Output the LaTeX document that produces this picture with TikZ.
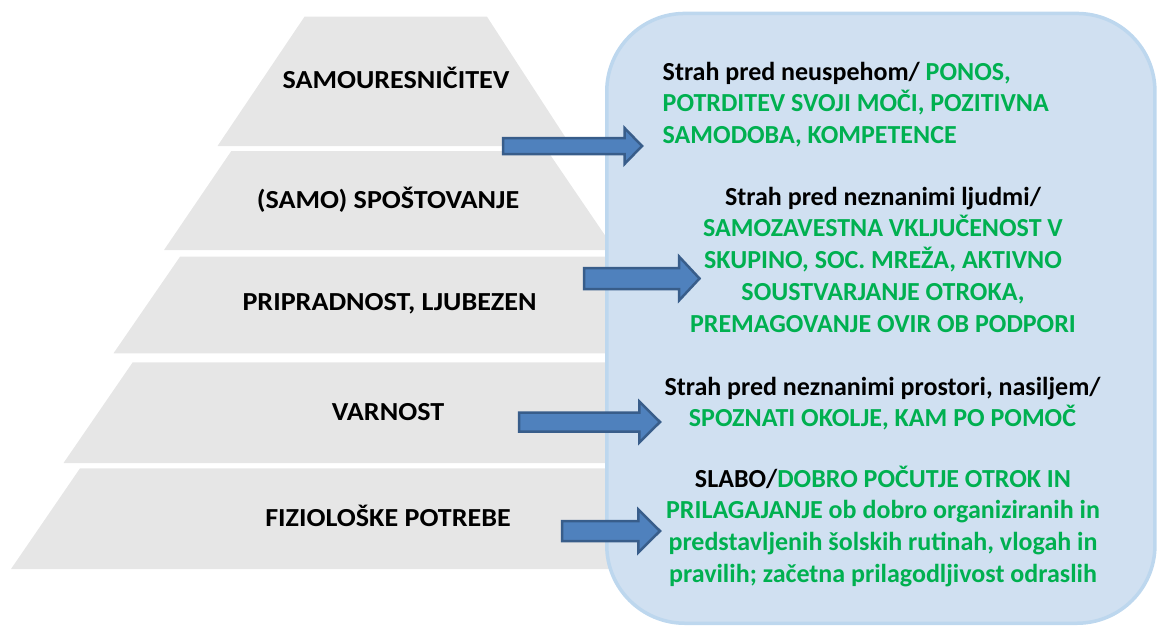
\documentclass[tikz,border=0pt]{standalone}
\usepackage{fontspec}
\usepackage{graphicx}
\setmainfont{Carlito}
\definecolor{layergray}{HTML}{E6E6E6}
\definecolor{boxfill}{HTML}{D0E0F1}
\definecolor{boxline}{HTML}{BDD7EE}
\definecolor{arrowfill}{HTML}{4F81BD}
\definecolor{arrowline}{HTML}{385D8A}
\definecolor{grn}{HTML}{00B050}
\newcommand{\lblwide}[1]{\scalebox{1.08}[1]{#1}}
\tikzset{
  layer/.style={fill=layergray, draw=none},
  infobox/.style={fill=boxfill, draw=boxline, line width=3.5pt, rounded corners=78pt},
  blockarrow/.style={fill=arrowfill, draw=arrowline, line width=2.5pt, line join=miter},
  lvl/.style={font=\fontsize{26}{31.7}\selectfont\bfseries, inner sep=0pt, anchor=base, text=black},
  desc/.style={font=\fontsize{26}{31.7}\selectfont\bfseries, inner sep=0pt, text=grn},
}
\newcommand{\blockarr}[6]{%
  \draw[blockarrow] (#1,#4-#5) -- (#2,#4-#5) -- (#2,#4-#6) -- (#3,#4) -- (#2,#4+#6) -- (#2,#4+#5) -- (#1,#4+#5) -- cycle;}
\begin{document}
\begin{tikzpicture}[x=1pt,y=-1pt]
\useasboundingbox (0,0) rectangle (1158,626);
% pyramid layers
\fill[layer] (304.5,16.7) -- (487,16.7) -- (571,146) -- (217.5,146) -- cycle;
\fill[layer] (231.3,151) -- (547.6,151) -- (615,250) -- (164,250) -- cycle;
\fill[layer] (180,256.7) -- (640,256.7) -- (640,353.3) -- (113.5,353.3) -- cycle;
\fill[layer] (132.7,362.3) -- (640,362.3) -- (640,463) -- (63.5,463) -- cycle;
\fill[layer] (80,468.3) -- (640,468.3) -- (640,569) -- (11,569) -- cycle;
% info box
\draw[infobox] (606.75,13.45) rectangle (1154.95,623.25);
% arrows
\blockarr{503}{624.5}{642}{146}{8}{18}
\blockarr{584}{679}{699.5}{278.5}{10.5}{22}
\blockarr{519}{639.3}{660}{422}{9.5}{20.5}
\blockarr{562}{638.3}{660}{531}{10}{21.5}
% level labels
\node[lvl] (l1) at (396,88.8) {\lblwide{SAMOURESNIČITEV}};
\node[lvl] (l2) at (388,208.3) {\lblwide{(SAMO) SPOŠTOVANJE}};
\node[lvl] (l3) at (389.5,310.5) {\lblwide{PRIPRADNOST, LJUBEZEN}};
\node[lvl] (l4) at (388,420.7) {\lblwide{VARNOST}};
\node[lvl] (l5) at (388,526.7) {\lblwide{FIZIOLOŠKE POTREBE}};
% descriptions
\node[desc, align=left, anchor=north west] (d1) at (662.5,56)
  {\rule{0pt}{24pt}\textcolor{black}{Strah pred neuspehom/} PONOS,\\POTRDITEV SVOJI MOČI, POZITIVNA\\SAMODOBA, KOMPETENCE};
\node[desc, align=center, anchor=north] (d2) at (883,181)
  {\rule{0pt}{24pt}\textcolor{black}{Strah pred neznanimi ljudmi/}\\SAMOZAVESTNA VKLJUČENOST V\\SKUPINO, SOC. MREŽA, AKTIVNO\\SOUSTVARJANJE OTROKA,\\PREMAGOVANJE OVIR OB PODPORI};
\node[desc, align=center, anchor=north] (d3) at (882.5,371)
  {\rule{0pt}{24pt}\textcolor{black}{Strah pred neznanimi prostori, nasiljem/}\\SPOZNATI OKOLJE, KAM PO POMOČ};
\node[desc, align=center, anchor=north] (d4) at (883,463)
  {\rule{0pt}{24pt}\textcolor{black}{SLABO/}DOBRO POČUTJE OTROK IN\\PRILAGAJANJE ob dobro organiziranih in\\predstavljenih šolskih rutinah, vlogah in\\pravilih; začetna prilagodljivost odraslih};
\end{tikzpicture}
\end{document}
